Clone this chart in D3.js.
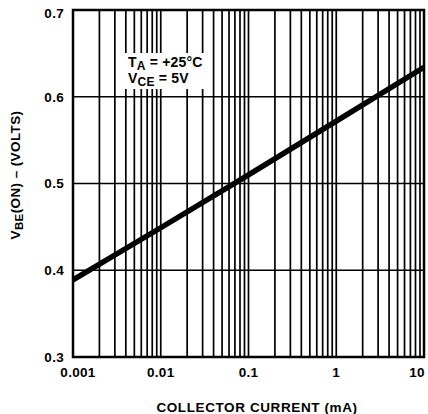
<!DOCTYPE html>
<html><head><meta charset="utf-8">
<script src="https://cdn.jsdelivr.net/npm/d3@7/dist/d3.min.js"></script>
<style>
body{margin:0;background:#fff;}
text{font-family:"Liberation Sans",Arial,Helvetica,sans-serif;font-weight:bold;fill:#000;}
</style></head>
<body>
<svg id="c" width="428" height="414"></svg>
<script>
// Data
const currentMA = [0.001, 0.01, 0.1, 1, 10];
const vbeOn = [0.389, 0.449, 0.510, 0.572, 0.634];
const xTickValues = [0.001, 0.01, 0.1, 1, 10];
const xTickLabels = ["0.001", "0.01", "0.1", "1", "10"];
const yTickValues = [0.3, 0.4, 0.5, 0.6, 0.7];
const yTickLabels = ["0.3", "0.4", "0.5", "0.6", "0.7"];

const svg = d3.select("#c");
const L = 73, R = 424, T = 10, B = 357;
const x = d3.scaleLog().domain([0.001, 10]).range([L, R]);
const y = d3.scaleLinear().domain([0.3, 0.7]).range([B, T]);

// vertical gridlines
const vlines = [];
for (let d = 0.001; d < 10; d *= 10) {
  for (let k = 2; k <= 9; k++) vlines.push(+(d * k).toPrecision(3));
}
[0.01, 0.1, 1].forEach(v => vlines.push(v));
svg.append("g").selectAll("line").data(vlines).join("line")
  .attr("x1", d => x(d)).attr("x2", d => x(d))
  .attr("y1", T).attr("y2", B)
  .attr("stroke", "#000").attr("stroke-width", 1.7);

// horizontal gridlines
svg.append("g").selectAll("line").data([0.4, 0.5, 0.6]).join("line")
  .attr("x1", L).attr("x2", R)
  .attr("y1", d => y(d)).attr("y2", d => y(d))
  .attr("stroke", "#000").attr("stroke-width", 1.7);

// annotation box
svg.append("rect").attr("x", 122).attr("y", 53).attr("width", 88).attr("height", 36).attr("fill", "#fff");
const a1 = svg.append("text").attr("x", 128).attr("y", 67).style("font-size", "14px").style("letter-spacing", "0.2px");
a1.append("tspan").text("T");
a1.append("tspan").text("A").attr("dy", 3).style("font-size", "12px");
a1.append("tspan").text(" = +25°C").attr("dy", -3);
const a2 = svg.append("text").attr("x", 128).attr("y", 83).style("font-size", "14px").style("letter-spacing", "0.2px");
a2.append("tspan").text("V");
a2.append("tspan").text("CE").attr("dy", 3).style("font-size", "12px");
a2.append("tspan").text(" = 5V").attr("dy", -3);

// border
svg.append("rect").attr("x", L).attr("y", T).attr("width", R - L).attr("height", B - T)
  .attr("fill", "none").attr("stroke", "#000").attr("stroke-width", 2.5);

// curve
const pts = currentMA.map((c, i) => [c, vbeOn[i]]);
svg.append("path").datum(pts)
  .attr("d", d3.line().x(d => x(d[0])).y(d => y(d[1])))
  .attr("fill", "none").attr("stroke", "#000").attr("stroke-width", 5.5);

// x tick labels
svg.append("g").selectAll("text").data(xTickValues).join("text")
  .attr("x", (d, i) => i === 4 ? 417 : x(d) + (i === 0 ? 5 : 0))
  .attr("y", 377).attr("text-anchor", "middle").style("font-size", "13.5px")
  .style("letter-spacing", "0.3px")
  .text((d, i) => xTickLabels[i]);

// y tick labels
svg.append("g").selectAll("text").data(yTickValues).join("text")
  .attr("x", 64).attr("y", d => y(d) + (d === 0.7 ? 3 : 0)).attr("dy", "0.36em")
  .attr("text-anchor", "end").style("font-size", "13.5px")
  .style("letter-spacing", "0.3px")
  .text((d, i) => yTickLabels[i]);

// x title
svg.append("text").attr("x", 257).attr("y", 412).attr("text-anchor", "middle")
  .style("font-size", "13.5px").style("letter-spacing", "0.6px").text("COLLECTOR CURRENT (mA)");

// y title
const yt = svg.append("text").attr("transform", "translate(20,175) rotate(-90)")
  .attr("text-anchor", "middle").style("font-size", "13.5px").style("letter-spacing", "0.4px");
yt.append("tspan").text("V");
yt.append("tspan").text("BE").attr("dy", 3).style("font-size", "11.5px");
yt.append("tspan").text("(ON) – (VOLTS)").attr("dy", -3);
</script>
</body></html>
